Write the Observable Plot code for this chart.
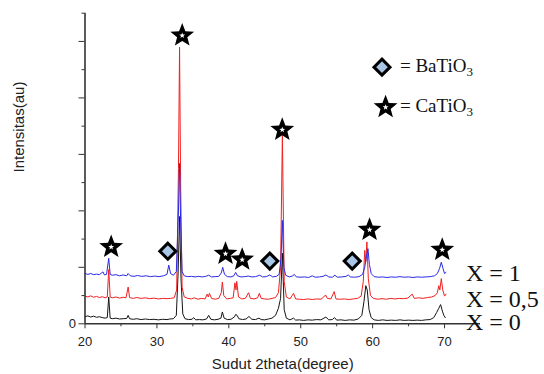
<!DOCTYPE html>
<html><head><meta charset="utf-8">
<script src="https://cdn.jsdelivr.net/npm/d3@7"></script>
<script src="https://cdn.jsdelivr.net/npm/@observablehq/plot@0.6"></script>
<style>body{margin:0;background:#fff;overflow:hidden}</style>
</head><body><div id="chart"></div>
<script>
// 2theta (degree), intensity (a.u., offset per sample)
const seriesX0 = [[20.0,0.25],[20.4,0.28],[20.8,0.24],[21.2,0.27],[21.6,0.23],[22.0,0.25],[22.4,0.22],[22.8,0.2],[23.1,0.22],[23.3,0.95],[23.5,0.2],[23.8,0.18],[24.3,0.2],[24.8,0.17],[25.3,0.18],[25.8,0.19],[26.0,0.3],[26.2,0.18],[26.7,0.16],[27.2,0.18],[27.8,0.15],[28.4,0.17],[29.0,0.15],[29.6,0.16],[30.2,0.14],[30.8,0.16],[31.4,0.15],[31.8,0.17],[32.3,0.18],[32.7,0.3],[32.95,1.8],[33.15,3.8],[33.35,1.6],[33.6,0.35],[33.9,0.18],[34.4,0.15],[34.9,0.16],[35.1,0.22],[35.4,0.14],[35.9,0.15],[36.4,0.14],[36.9,0.17],[37.2,0.3],[37.5,0.16],[38.0,0.14],[38.5,0.16],[38.9,0.2],[39.1,0.42],[39.35,0.2],[39.8,0.15],[40.3,0.16],[40.8,0.25],[40.95,0.33],[41.15,0.3],[41.4,0.18],[41.9,0.15],[42.4,0.17],[42.8,0.26],[43.2,0.16],[43.7,0.15],[44.2,0.2],[44.5,0.15],[45.0,0.14],[45.5,0.17],[46.0,0.2],[46.5,0.3],[46.9,0.55],[47.2,0.9],[47.45,2.5],[47.7,0.5],[48.0,0.2],[48.5,0.14],[49.0,0.2],[49.3,0.13],[49.8,0.14],[50.4,0.12],[51.0,0.14],[51.6,0.13],[52.2,0.15],[52.8,0.14],[53.5,0.24],[53.9,0.14],[54.4,0.15],[54.7,0.22],[55.0,0.13],[55.6,0.14],[56.2,0.12],[56.8,0.14],[57.4,0.13],[58.0,0.17],[58.5,0.3],[58.8,0.8],[59.05,1.35],[59.25,1.2],[59.5,0.5],[59.8,0.22],[60.2,0.14],[60.8,0.12],[61.4,0.14],[62.0,0.12],[62.6,0.13],[63.2,0.12],[63.8,0.14],[64.4,0.12],[65.0,0.13],[65.6,0.12],[66.2,0.13],[66.8,0.12],[67.4,0.14],[68.0,0.15],[68.5,0.22],[68.9,0.4],[69.2,0.55],[69.45,0.68],[69.7,0.45],[69.9,0.3],[70.1,0.22]];

const seriesX05 = [[20.0,0.98],[20.4,0.95],[20.8,0.99],[21.2,0.94],[21.6,0.97],[22.0,0.93],[22.4,0.96],[22.8,0.92],[23.1,0.95],[23.3,1.92],[23.5,0.95],[23.8,0.92],[24.3,0.95],[24.8,0.91],[25.3,0.94],[25.7,0.92],[26.0,1.3],[26.2,0.93],[26.7,0.9],[27.2,0.93],[27.8,0.9],[28.4,0.92],[29.0,0.89],[29.6,0.91],[30.2,0.88],[30.8,0.9],[31.4,0.89],[31.9,0.9],[32.4,0.92],[32.75,1.2],[33.0,5.5],[33.15,9.8],[33.3,5.0],[33.5,1.3],[33.8,0.95],[34.3,0.9],[34.8,0.88],[35.2,0.92],[35.7,0.87],[36.2,0.9],[36.7,0.88],[37.0,1.05],[37.15,0.95],[37.3,1.08],[37.6,0.9],[38.1,0.87],[38.6,0.9],[38.95,1.1],[39.1,1.48],[39.3,1.0],[39.7,0.88],[40.2,0.9],[40.6,0.92],[40.85,1.45],[41.0,1.2],[41.1,1.5],[41.35,0.95],[41.8,0.88],[42.3,0.9],[42.75,1.1],[43.0,0.9],[43.5,0.88],[44.0,0.92],[44.25,1.08],[44.5,0.9],[45.0,0.88],[45.5,0.87],[46.0,0.9],[46.5,0.93],[46.9,1.1],[47.2,2.0],[47.45,6.68],[47.7,1.5],[48.0,0.95],[48.5,0.88],[49.0,1.08],[49.3,0.88],[49.8,0.87],[50.4,0.86],[51.0,0.88],[51.6,0.86],[52.2,0.88],[52.8,0.87],[53.2,0.95],[53.45,1.02],[53.7,0.9],[54.2,0.88],[54.65,1.14],[54.9,0.88],[55.5,0.87],[56.1,0.88],[56.7,0.86],[57.3,0.88],[57.9,0.9],[58.4,0.98],[58.7,1.5],[58.9,2.6],[59.05,2.2],[59.2,2.9],[59.4,1.6],[59.7,1.0],[60.1,0.9],[60.7,0.87],[61.3,0.89],[61.9,0.87],[62.5,0.9],[63.1,0.88],[63.7,0.9],[64.3,0.89],[64.9,0.91],[65.5,1.05],[65.8,0.9],[66.4,0.92],[67.0,0.9],[67.6,0.93],[68.2,0.95],[68.7,1.0],[69.0,1.1],[69.2,1.35],[69.35,1.2],[69.55,1.6],[69.75,1.2],[70.0,0.98],[70.2,1.05]];

const seriesX1 = [[20.0,1.78],[20.4,1.75],[20.8,1.78],[21.2,1.74],[21.6,1.76],[22.0,1.74],[22.5,1.84],[22.7,1.73],[23.0,1.75],[23.3,2.32],[23.5,1.75],[23.8,1.72],[24.3,1.74],[24.8,1.7],[25.3,1.73],[25.8,1.7],[26.0,1.78],[26.3,1.7],[26.8,1.68],[27.3,1.71],[27.9,1.68],[28.5,1.7],[29.1,1.67],[29.7,1.69],[30.3,1.67],[30.9,1.7],[31.4,1.75],[31.65,2.08],[31.9,1.78],[32.3,1.72],[32.7,1.85],[33.0,4.0],[33.15,5.68],[33.3,3.6],[33.5,1.85],[33.8,1.7],[34.3,1.67],[34.8,1.68],[35.3,1.66],[35.8,1.68],[36.3,1.66],[36.8,1.68],[37.2,1.72],[37.6,1.66],[38.1,1.67],[38.6,1.68],[38.95,1.8],[39.15,2.0],[39.4,1.75],[39.8,1.67],[40.3,1.66],[40.7,1.7],[40.95,1.82],[41.2,1.7],[41.7,1.66],[42.2,1.67],[42.7,1.69],[43.2,1.66],[43.7,1.67],[44.3,1.72],[44.7,1.66],[45.2,1.67],[45.7,1.73],[46.1,1.66],[46.6,1.68],[47.0,1.75],[47.25,2.3],[47.45,3.66],[47.65,2.0],[47.9,1.72],[48.4,1.66],[48.9,1.7],[49.1,1.75],[49.4,1.66],[49.9,1.65],[50.5,1.66],[51.1,1.64],[51.6,1.7],[52.0,1.65],[52.6,1.66],[53.1,1.68],[53.5,1.73],[53.9,1.66],[54.4,1.65],[54.75,1.72],[55.1,1.65],[55.7,1.66],[56.3,1.68],[56.6,1.73],[56.9,1.66],[57.5,1.65],[58.1,1.67],[58.6,1.75],[58.9,2.0],[59.15,2.4],[59.35,2.66],[59.55,2.1],[59.8,1.78],[60.2,1.67],[60.8,1.65],[61.4,1.66],[62.0,1.64],[62.6,1.66],[63.2,1.65],[63.8,1.67],[64.4,1.65],[65.0,1.66],[65.6,1.64],[66.2,1.66],[66.8,1.65],[67.4,1.66],[68.0,1.67],[68.6,1.7],[69.0,1.78],[69.3,1.95],[69.55,2.18],[69.8,1.95],[70.0,1.78],[70.2,1.82]];

// Phase markers: [2theta, height]
const caTiO3Marks = [[23.64,2.72],[33.52,10.21],[39.54,2.48],[41.86,2.27],[47.43,6.87],[59.57,3.33],[69.68,2.62]];
const baTiO3Marks = [[31.52,2.57],[45.7,2.22],[57.16,2.22]];

const xMajorTicks = [20,30,40,50,60,70];
const xMinorTicks = [25,35,45,55,65];
const yMajorTicks = [0,2,4,6,8,10];
const yMinorTicks = [1,3,5,7,9,11];

const sampleLabels = [{label:"X = 1", y:1.53},{label:"X = 0,5", y:0.59},{label:"X = 0", y:-0.21}];
const legendItems = [{name:"= BaTiO", sub:"3", kind:"diamond", y:9.09},{name:"= CaTiO", sub:"3", kind:"star", y:7.67}];

function starSymbol(ratio){
  return {draw(ctx, size){
    const R = Math.sqrt(size/Math.PI), r = R*ratio;
    for (let i=0;i<10;i++){
      const a = -Math.PI/2 + i*Math.PI/5, rad = i%2 ? r : R;
      const x = rad*Math.cos(a), y = rad*Math.sin(a);
      if (i) ctx.lineTo(x,y); else ctx.moveTo(x,y);
    }
    ctx.closePath();
  }};
}
const diamondSymbol = {draw(ctx, size){
  const d = Math.sqrt(size/Math.PI);
  ctx.moveTo(0,-d); ctx.lineTo(d,0); ctx.lineTo(0,d); ctx.lineTo(-d,0); ctx.closePath();
}};
const star = starSymbol(0.43);
const serif = "Liberation Serif, Times New Roman, serif";

const legendDiamonds = legendItems.filter(d=>d.kind==="diamond");
const legendStars = legendItems.filter(d=>d.kind==="star");

const chart = Plot.plot({
  width:544, height:374,
  marginLeft:84.5, marginRight:64, marginTop:12.7, marginBottom:50.7,
  x:{domain:[20,75]}, y:{domain:[0,11]},
  style:{fontFamily:"Liberation Sans, Arial, sans-serif", fontSize:"13px", color:"#222", background:"#fff", overflow:"visible"},
  marks:[
    Plot.axisX({ticks:xMajorTicks, tickSize:5, tickPadding:8, label:null, stroke:"#333"}),
    Plot.axisX({ticks:xMinorTicks, tickSize:3, tickFormat:()=>"", label:null, stroke:"#333"}),
    Plot.axisY({ticks:yMajorTicks, tickSize:6, tickPadding:3, tickFormat:d=>d===0?"0":"", label:null, stroke:"#333"}),
    Plot.axisY({ticks:yMinorTicks, tickSize:3, tickFormat:()=>"", label:null, stroke:"#333"}),
    Plot.text(["Sudut 2theta(degree)"], {frameAnchor:"bottom", dy:44.7, lineAnchor:"bottom", fontSize:15, fill:"#222"}),
    Plot.text(["Intensitas(au)"], {frameAnchor:"left", dx:-65.5, dy:4, rotate:-90, fontSize:15, fill:"#222"}),
    Plot.line(seriesX0, {x:d=>d[0], y:d=>d[1], stroke:"#151515", strokeWidth:1}),
    Plot.line(seriesX05, {x:d=>d[0], y:d=>d[1], stroke:"#f02020", strokeWidth:1}),
    Plot.line(seriesX1, {x:d=>d[0], y:d=>d[1], stroke:"#2a2ae6", strokeWidth:1}),
    Plot.ruleX([20], {y1:0, y2:11, stroke:"#333", strokeWidth:1.6}),
    Plot.ruleY([0], {x1:20, x2:75, stroke:"#333", strokeWidth:1.6}),
    Plot.dot(baTiO3Marks, {x:d=>d[0], y:d=>d[1], symbol:diamondSymbol, r:8, fill:"#a9c6e6", stroke:"#000", strokeWidth:3}),
    Plot.dot(caTiO3Marks, {x:d=>d[0], y:d=>d[1], symbol:star, r:12.5, fill:"#000", stroke:"none"}),
    Plot.dot(caTiO3Marks, {x:d=>d[0], y:d=>d[1], symbol:star, r:3, fill:"#fff", stroke:"none"}),
    Plot.dot(legendDiamonds, {x:61.3, y:"y", symbol:diamondSymbol, r:8, fill:"#a9c6e6", stroke:"#000", strokeWidth:3}),
    Plot.dot(legendStars, {x:61.8, y:"y", symbol:star, r:12.5, fill:"#000", stroke:"none"}),
    Plot.dot(legendStars, {x:61.8, y:"y", symbol:star, r:3, fill:"#fff", stroke:"none"}),
    Plot.text(legendItems, {x:63.8, y:d=>d.y, dy:5, text:"name", textAnchor:"start", lineAnchor:"bottom", fontFamily:serif, fontSize:19, fill:"#111", className:"chem"}),
    Plot.text(sampleLabels, {x:72.97, y:"y", text:"label", textAnchor:"start", lineAnchor:"bottom", fontFamily:serif, fontSize:24, fill:"#111"})
  ]
});
document.getElementById("chart").appendChild(chart);
d3.select(chart).selectAll("g.chem text").each(function(d, i){
  d3.select(this).append("tspan").attr("dy", 4).attr("font-size", 13).text(legendItems[i].sub);
});
</script>
</body></html>
